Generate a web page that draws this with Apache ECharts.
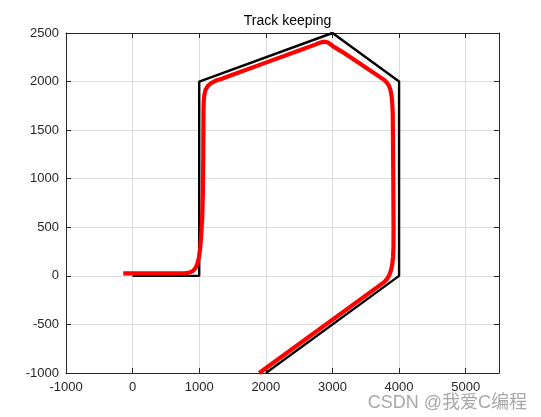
<!DOCTYPE html>
<html>
<head>
<meta charset="utf-8">
<script src="https://cdn.jsdelivr.net/npm/echarts@6/dist/echarts.min.js"></script>
<style>
html,body{margin:0;padding:0;background:#fff;}
#c{width:541px;height:417px;}
</style>
</head>
<body>
<div id="c"></div>
<script>
var titleText = 'Track keeping';
var refX = [0, 1000, 1000, 3000, 4000, 4000, 2000];
var refY = [0, 0, 2000, 2500, 2000, 0, -1000];
var actX = [-140, 500, 780, 850, 900, 940, 970, 995, 1015, 1030, 1045, 1055, 1060, 1064, 1067, 1076, 1095, 1130, 1180, 1250, 1330, 1500, 2000, 2500, 2750, 2800, 2850, 2890, 2930, 2970, 3010, 3146, 3500, 3770, 3810, 3845, 3870, 3888, 3898, 3905, 3908, 3913, 3917, 3916, 3910, 3898, 3880, 3855, 3822, 3780, 3730, 3700, 1900];
var actY = [25, 25, 27, 33, 48, 75, 120, 190, 290, 420, 600, 850, 1200, 1700, 1790, 1860, 1915, 1955, 1985, 2010, 2027, 2070, 2195, 2320, 2383, 2398, 2408, 2410, 2402, 2385, 2362, 2306, 2145, 2020, 1995, 1962, 1915, 1850, 1770, 1670, 1450, 1000, 500, 300, 200, 120, 60, 10, -30, -62, -88, -100, -1000];
var xTicks = {min: -1000, max: 5500, step: 1000};
var yTicks = {min: -1000, max: 2500, step: 500};

function zip(a, b) { return a.map(function (v, i) { return [v, b[i]]; }); }
function plain(v) { return String(v); }

var labelStyle = {color: '#262626', fontSize: 13, fontFamily: 'Liberation Sans, Arial, sans-serif', formatter: plain};
var chart = echarts.init(document.getElementById('c'));
chart.setOption({
  animation: false,
  backgroundColor: '#fff',
  title: {
    text: titleText, left: 282.5, top: 9, textAlign: 'center',
    textStyle: {color: '#000', fontSize: 14, fontWeight: 'normal', fontFamily: 'Liberation Sans, Arial, sans-serif'}
  },
  grid: {left: 66, right: 42, top: 33, bottom: 44},
  xAxis: [{
    type: 'value', min: xTicks.min, max: xTicks.max, interval: xTicks.step,
    axisLine: {show: true, onZero: false, lineStyle: {color: '#262626', width: 1}},
    axisTick: {show: true, inside: true, length: 5, lineStyle: {color: '#262626'}},
    axisLabel: Object.assign({margin: 8, showMaxLabel: false}, labelStyle),
    splitLine: {show: true, lineStyle: {color: '#dcdcdc', width: 1}}
  }, {
    type: 'value', position: 'top', min: xTicks.min, max: xTicks.max, interval: xTicks.step,
    axisLine: {show: true, onZero: false, lineStyle: {color: '#262626', width: 1}},
    axisTick: {show: true, inside: true, length: 5, lineStyle: {color: '#262626'}},
    axisLabel: {show: false}, splitLine: {show: false}
  }],
  yAxis: [{
    type: 'value', min: yTicks.min, max: yTicks.max, interval: yTicks.step,
    axisLine: {show: true, onZero: false, lineStyle: {color: '#262626', width: 1}},
    axisTick: {show: true, inside: true, length: 5, lineStyle: {color: '#262626'}},
    axisLabel: Object.assign({margin: 7}, labelStyle),
    splitLine: {show: true, lineStyle: {color: '#dcdcdc', width: 1}}
  }, {
    type: 'value', position: 'right', min: yTicks.min, max: yTicks.max, interval: yTicks.step,
    axisLine: {show: true, onZero: false, lineStyle: {color: '#262626', width: 1}},
    axisTick: {show: true, inside: true, length: 5, lineStyle: {color: '#262626'}},
    axisLabel: {show: false}, splitLine: {show: false}
  }],
  series: [{
    type: 'line', data: zip(refX, refY), showSymbol: false, symbol: 'none',
    lineStyle: {color: '#000', width: 2.4}, z: 3
  }, {
    type: 'line', data: zip(actX, actY), showSymbol: false, symbol: 'none',
    lineStyle: {color: '#ff0000', width: 4.2, join: 'round', cap: 'butt'}, z: 4
  }],
  graphic: [{
    type: 'text', right: 14, bottom: 5,
    style: {text: 'CSDN @我爱C编程', fill: '#a8a8a8', fontSize: 18, fontFamily: 'Liberation Sans, Noto Sans CJK SC, sans-serif'}
  }]
});
</script>
</body>
</html>
